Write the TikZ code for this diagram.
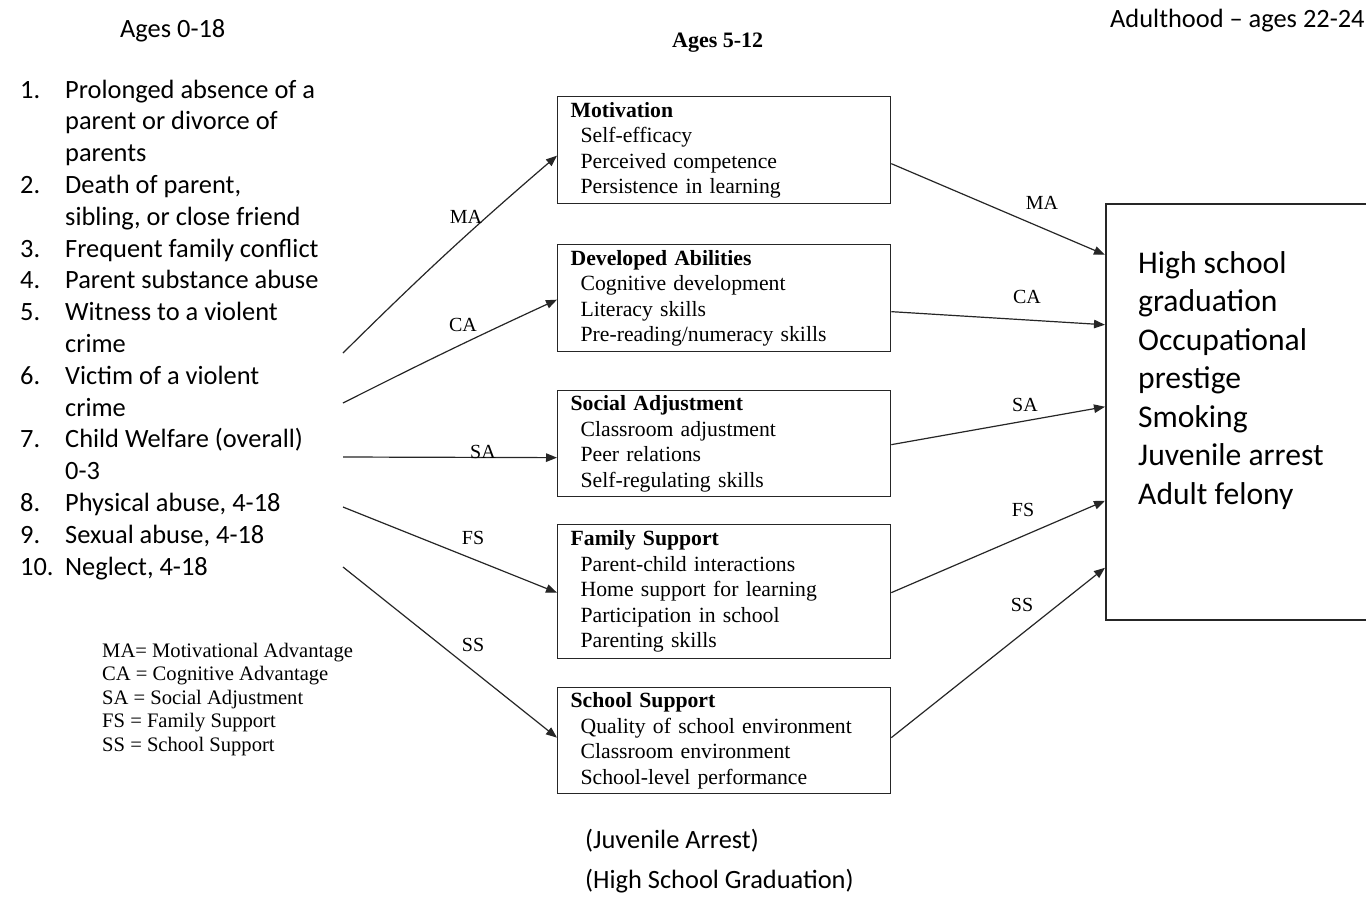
\documentclass[tikz,border=0pt]{standalone}
\usepackage{fontspec}
\setmainfont{Liberation Serif}
\newfontfamily\carlito{Carlito}
\usetikzlibrary{arrows.meta}
\begin{document}
\begin{tikzpicture}[x=1pt,y=-1pt,
  box/.style={draw=black!85, line width=1.3pt, anchor=north west,
    minimum width=333pt, inner xsep=13pt, inner ysep=0pt, text width=307pt,
    align=left, font=\fontsize{21.7}{25.5}\selectfont},
  link/.style={draw=black!85, line width=1.2pt, -{Triangle[length=11pt,width=8.5pt]}},
  lbl/.style={font=\fontsize{20}{22}\selectfont, inner sep=0pt},
  sans/.style={font=\carlito\fontsize{26.4}{31.8}\selectfont, inner sep=0pt},
]
\useasboundingbox[fill=white] (0,0) rectangle (1366,898);

% column headings
\node[sans, anchor=base west] (agesA) at (120,37) {Ages 0-18};
\node[anchor=base west, inner sep=0pt, font=\bfseries\fontsize{22}{24}\selectfont] (agesB) at (672,47) {Ages 5-12};
\node[sans, anchor=base west] (agesC) at (1110,27) {Adulthood – ages 22-24};

% adverse experiences
\node[sans, anchor=north west] (risks) at (20,75.7) {\begin{tabular}{@{}p{45pt}@{}l@{}}
1. & Prolonged absence of a\\
   & parent or divorce of\\
   & parents\\
2. & Death of parent,\\
   & sibling, or close friend\\
3. & Frequent family conflict\\
4. & Parent substance abuse\\
5. & Witness to a violent\\
   & crime\\
6. & Victim of a violent\\
   & crime\\
7. & Child Welfare (overall)\\
   & 0-3\\
8. & Physical abuse, 4-18\\
9. & Sexual abuse, 4-18\\
10. & Neglect, 4-18
\end{tabular}};

% abbreviations
\node[anchor=north west, inner sep=0pt, font=\fontsize{20.6}{23.5}\selectfont] (legend) at (102,640.5) {\begin{tabular}{@{}l@{}}
MA= Motivational Advantage\\
CA = Cognitive Advantage\\
SA = Social Adjustment\\
FS = Family Support\\
SS = School Support
\end{tabular}};

% mediating factors
\node[box, minimum height=107pt] (mot) at (557,96) {\textbf{Motivation}\\
\hspace*{10pt}Self-efficacy\\
\hspace*{10pt}Perceived competence\\
\hspace*{10pt}Persistence in learning};
\node[box, minimum height=107pt] (da) at (557,244) {\textbf{Developed Abilities}\\
\hspace*{10pt}Cognitive development\\
\hspace*{10pt}Literacy skills\\
\hspace*{10pt}Pre-reading/numeracy skills};
\node[box, minimum height=106pt] (sa) at (557,390) {\textbf{Social Adjustment}\\
\hspace*{10pt}Classroom adjustment\\
\hspace*{10pt}Peer relations\\
\hspace*{10pt}Self-regulating skills};
\node[box, minimum height=134pt] (fs) at (557,524) {\textbf{Family Support}\\
\hspace*{10pt}Parent-child interactions\\
\hspace*{10pt}Home support for learning\\
\hspace*{10pt}Participation in school\\
\hspace*{10pt}Parenting skills};
\node[box, minimum height=106pt] (ss) at (557,687) {\textbf{School Support}\\
\hspace*{10pt}Quality of school environment\\
\hspace*{10pt}Classroom environment\\
\hspace*{10pt}School-level performance};

% adult outcomes (box runs off the right edge)
\begin{scope}
  \clip (0,0) rectangle (1366,898);
  \node[draw=black!85, line width=1.5pt, anchor=north west, minimum width=300pt,
        minimum height=416pt, inner sep=0pt] (out) at (1105,203) {};
\end{scope}
\node[anchor=north west, inner sep=0pt, font=\carlito\fontsize{31.6}{38.5}\selectfont] (outtxt) at (1138,246) {\begin{tabular}{@{}l@{}}
High school\\
graduation\\
Occupational\\
prestige\\
Smoking\\
Juvenile arrest\\
Adult felony
\end{tabular}};

% bottom notes
\node[sans, anchor=base west] (noteJA) at (585,848) {(Juvenile Arrest)};
\node[sans, anchor=base west] (noteHS) at (585,888) {(High School Graduation)};

% path origins on the left
\coordinate (s1) at (343,353);
\coordinate (s2) at (343,403);
\coordinate (s3) at (343,457);
\coordinate (s4) at (343,507);
\coordinate (s5) at (343,567);

% paths into the mediators
\draw[link] (s1) to[bend left=2] ([yshift=-5.5pt]mot.west);
\draw[link] (s2) to[bend left=1] ([yshift=-1.5pt]da.west);
\draw[link] (s3) -- ([yshift=-14pt]sa.west);
\draw[link] (s4) -- ([yshift=-1pt]fs.west);
\draw[link] (s5) -- ([yshift=3pt]ss.west);

% paths into the outcomes
\draw[link] ([yshift=-13.5pt]mot.east) -- ([yshift=157pt]out.west);
\draw[link] ([yshift=-13.5pt]da.east) -- ([yshift=87pt]out.west);
\draw[link] ([yshift=-1pt]sa.east) -- ([yshift=5pt]out.west);
\draw[link] ([yshift=-1pt]fs.east) -- ([yshift=-89pt]out.west);
\draw[link] ([yshift=3pt]ss.east) -- ([yshift=-156pt]out.west);

% path labels
\node[lbl] (lMA1) at (466,217) {MA};
\node[lbl] (lCA1) at (463,325) {CA};
\node[lbl] (lSA1) at (483,452) {SA};
\node[lbl] (lFS1) at (473,538) {FS};
\node[lbl] (lSS1) at (473,645) {SS};
\node[lbl] (lMA2) at (1042,203) {MA};
\node[lbl] (lCA2) at (1027,297) {CA};
\node[lbl] (lSA2) at (1025,405) {SA};
\node[lbl] (lFS2) at (1023,510) {FS};
\node[lbl] (lSS2) at (1022,605) {SS};
\end{tikzpicture}
\end{document}
